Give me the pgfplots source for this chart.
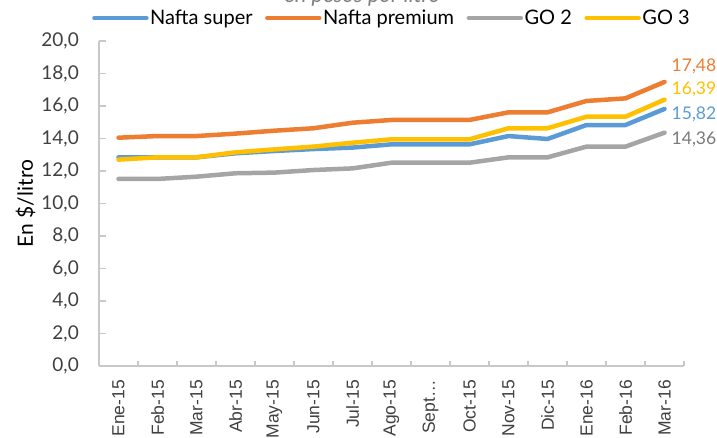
\documentclass[border=0pt]{standalone}
\usepackage{fontspec}
\setmainfont{Lato}
\newfontfamily\arialf{Liberation Sans}
\usepackage{pgfplots}
\pgfplotsset{compat=1.18}
\usetikzlibrary{calc}

\definecolor{cblue}{HTML}{5B9BD5}
\definecolor{corange}{HTML}{ED7D31}
\definecolor{cgray}{HTML}{A5A5A5}
\definecolor{cyellow}{HTML}{FFC000}
\definecolor{axgray}{HTML}{C8C8C8}
\definecolor{txt}{HTML}{404040}

\begin{document}
\begin{tikzpicture}
\begin{axis}[
  scale only axis,
  width=585pt, height=325pt,
  xmin=-0.5, xmax=14.5,
  ymin=0, ymax=20,
  axis lines=left,
  axis line style={-, draw=axgray, line width=2pt},
  tick align=inside,
  major tick length=7pt,
  minor tick length=5pt,
  xtick={0,...,14},
  xticklabels={Ene-15,Feb-15,Mar-15,Abr-15,May-15,Jun-15,Jul-15,Ago-15,Sept…,Oct-15,Nov-15,Dic-15,Ene-16,Feb-16,Mar-16},
  major x tick style={draw=none},
  minor xtick={-0.5,0.5,...,14.5},
  minor x tick style={draw=axgray, line width=1.5pt},
  ytick={0,2,...,20},
  y tick style={draw=axgray, line width=1.5pt},
  xticklabel style={rotate=90, anchor=east, inner sep=0pt, text=txt, font=\arialf\fontsize{17.5}{17.5}\selectfont},
  xticklabel shift=14pt,
  yticklabel style={inner sep=0pt, text=txt, font=\fontsize{19}{19}\selectfont,
    /pgf/number format/.cd, fixed, fixed zerofill, precision=1, use comma, assume math mode=true},
  yticklabel shift=20pt,
  ylabel={En \$/litro},
  ylabel style={at={(axis description cs:0,0.5)}, anchor=base, yshift=66pt, font=\fontsize{21}{21}\selectfont},
  legend columns=-1,
  legend style={at={(axis description cs:0,1)}, anchor=west, xshift=-7pt, yshift=23pt,
    draw=none, fill=none, inner sep=0pt, text=black,
    font=\fontsize{20}{20}\selectfont,
    nodes={inner sep=1.5pt},
    /tikz/every even column/.append style={column sep=11pt}},
  legend image code/.code={\draw[#1, line width=4.5pt, line cap=round] (2pt,0pt) -- (54pt,0pt);},
  every axis plot/.append style={line width=4.5pt, line cap=round, line join=round, mark=none},
  clip=false,
]
\addplot[cblue] coordinates {(0,12.84) (1,12.84) (2,12.84) (3,13.09) (4,13.23) (5,13.35) (6,13.44) (7,13.64) (8,13.64) (9,13.64) (10,14.15) (11,13.97) (12,14.83) (13,14.83) (14,15.82)};
\addlegendentry{Nafta super}
\addplot[corange] coordinates {(0,14.05) (1,14.15) (2,14.15) (3,14.30) (4,14.48) (5,14.63) (6,14.97) (7,15.14) (8,15.14) (9,15.14) (10,15.61) (11,15.61) (12,16.31) (13,16.47) (14,17.48)};
\addlegendentry{Nafta premium}
\addplot[cgray] coordinates {(0,11.51) (1,11.51) (2,11.65) (3,11.86) (4,11.90) (5,12.06) (6,12.16) (7,12.51) (8,12.51) (9,12.51) (10,12.84) (11,12.84) (12,13.50) (13,13.50) (14,14.36)};
\addlegendentry{GO 2}
\addplot[cyellow] coordinates {(0,12.70) (1,12.84) (2,12.84) (3,13.15) (4,13.33) (5,13.50) (6,13.74) (7,13.95) (8,13.95) (9,13.95) (10,14.63) (11,14.63) (12,15.34) (13,15.34) (14,16.39)};
\addlegendentry{GO 3}

\tikzset{endlab/.style={anchor=west, inner sep=0pt, xshift=7pt, font=\fontsize{17.5}{17.5}\selectfont}}
\node[endlab, yshift=16pt, text=corange] at (axis cs:14,17.48) {17,48};
\node[endlab, yshift=10.5pt, text=cyellow] at (axis cs:14,16.39) {16,39};
\node[endlab, yshift=-5pt, text=cblue] at (axis cs:14,15.82) {15,82};
\node[endlab, yshift=-7pt, text=gray!95!black] at (axis cs:14,14.36) {14,36};
\node[anchor=base, yshift=38pt, text=gray, font=\itshape\fontsize{22}{22}\selectfont] at (rel axis cs:0.45,1) {en pesos por litro};
\end{axis}
\pgfresetboundingbox
\useasboundingbox ($(current axis.south west)+(-99pt,-72pt)$) rectangle ($(current axis.north east)+(33pt,41pt)$);
\end{tikzpicture}
\end{document}
